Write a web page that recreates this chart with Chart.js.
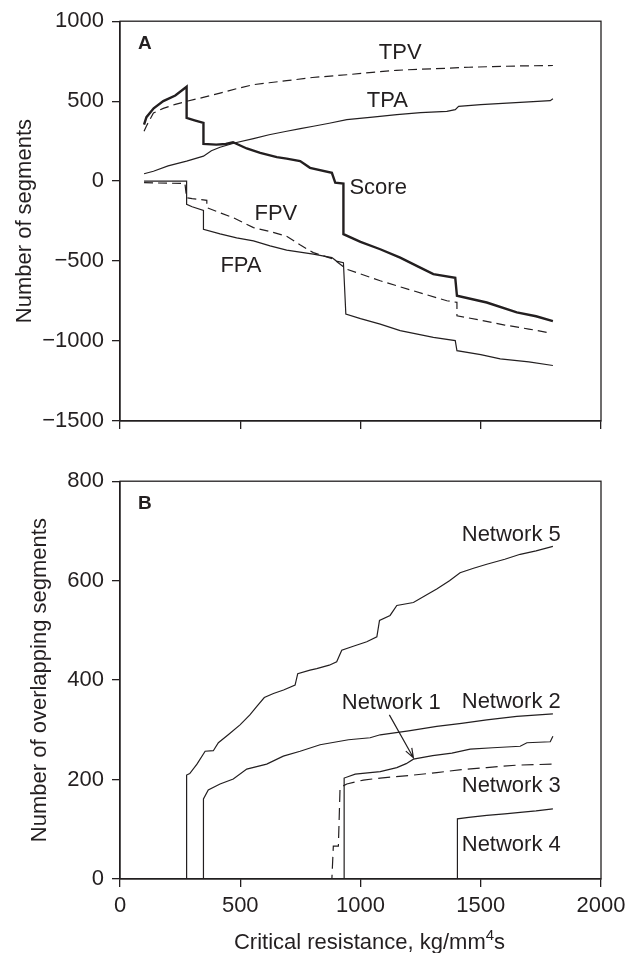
<!DOCTYPE html>
<html>
<head>
<meta charset="utf-8">
<script src="https://cdn.jsdelivr.net/npm/chart.js@4/dist/chart.umd.min.js"></script>
<style>
body { margin: 0; background: #fff; }
#wrapA { position: absolute; left: 0; top: 0; width: 637px; height: 460px; }
#wrapB { position: absolute; left: 0; top: 460px; width: 637px; height: 493px; }
</style>
</head>
<body>
<div id="wrapA"><canvas id="chartA" width="637" height="460"></canvas></div>
<div id="wrapB"><canvas id="chartB" width="637" height="493"></canvas></div>
<script>
// Panel A: x = critical resistance, y = number of segments
let tpvX = [100, 110, 139, 180, 230, 277, 350, 416, 485, 555, 620, 693, 800, 943, 1050, 1150, 1250, 1359, 1450, 1550, 1650, 1800];
let tpvY = [312, 345, 426, 455, 480, 499, 525, 550, 578, 603, 615, 628, 648, 665, 680, 693, 700, 706, 712, 716, 720, 723];

let tpaX = [100, 139, 200, 277, 347, 380, 416, 480, 555, 620, 693, 750, 804, 870, 943, 1050, 1151, 1250, 1359, 1394, 1408, 1500, 1609, 1700, 1789, 1800];
let tpaY = [46, 62, 95, 125, 156, 190, 212, 240, 266, 290, 312, 328, 343, 362, 385, 400, 416, 428, 436, 447, 468, 478, 488, 495, 503, 515];

let scoreX = [100, 110, 140, 180, 230, 277, 277, 310, 347, 347, 400, 440, 470, 527, 583, 652, 693, 749, 790, 881, 895, 929, 929, 1000, 1082, 1165, 1240, 1303, 1394, 1401, 1525, 1650, 1730, 1800];
let scoreY = [353, 400, 455, 500, 535, 590, 395, 380, 364, 233, 228, 232, 243, 204, 177, 150, 141, 125, 83, 52, -10, -15, -332, -380, -426, -478, -535, -582, -605, -717, -759, -821, -845, -875];

let fpvX = [100, 270, 277, 300, 361, 361, 420, 471, 555, 624, 693, 750, 804, 888, 943, 1082, 1220, 1359, 1401, 1401, 1500, 1600, 1700, 1790];
let fpvY = [-10, -15, -104, -110, -120, -166, -200, -229, -291, -315, -345, -400, -447, -488, -551, -623, -686, -748, -758, -842, -870, -900, -925, -950];

let fpaX = [100, 277, 277, 300, 347, 347, 416, 485, 555, 624, 693, 804, 881, 900, 929, 939, 1000, 1082, 1165, 1303, 1394, 1401, 1500, 1581, 1700, 1800];
let fpaY = [0, 0, -145, -160, -183, -301, -330, -355, -374, -405, -432, -457, -478, -500, -510, -831, -860, -894, -935, -977, -997, -1060, -1085, -1112, -1130, -1153];

// Panel B: overlapping segments per network
let net5X = [100, 277, 277, 290, 320, 354, 388, 409, 450, 499, 540, 569, 600, 638, 680, 728, 739, 790, 818, 870, 901, 922, 970, 1026, 1068, 1079, 1123, 1151, 1220, 1270, 1317, 1370, 1414, 1470, 1525, 1600, 1664, 1730, 1800];
let net5Y = [0, 0, 209, 212, 231, 257, 258, 274, 290, 310, 330, 347, 365, 373, 380, 390, 413, 420, 423, 430, 437, 460, 468, 477, 487, 520, 530, 550, 556, 570, 583, 600, 616, 625, 633, 643, 653, 660, 669];

let net2X = [100, 347, 347, 367, 416, 471, 527, 610, 679, 749, 832, 950, 1040, 1082, 1200, 1317, 1420, 1525, 1650, 1800];
let net2Y = [0, 0, 161, 179, 191, 201, 221, 231, 247, 257, 270, 280, 284, 290, 298, 307, 313, 320, 327, 332];

let net1X = [100, 932, 932, 978, 1040, 1082, 1151, 1190, 1220, 1300, 1380, 1456, 1550, 1664, 1692, 1789, 1800];
let net1Y = [0, 0, 203, 211, 214, 216, 224, 232, 241, 248, 253, 261, 264, 267, 274, 276, 287];

let net3X = [100, 881, 887, 908, 915, 943, 1012, 1082, 1200, 1317, 1420, 1525, 1650, 1800];
let net3Y = [0, 0, 66, 66, 184, 191, 199, 203, 208, 214, 220, 224, 229, 231];

let net4X = [100, 1403, 1403, 1450, 1525, 1600, 1664, 1730, 1800];
let net4Y = [0, 0, 121, 124, 128, 131, 134, 137, 141];

let xTicks = [0, 500, 1000, 1500, 2000];
let yTicksA = [-1500, -1000, -500, 0, 500, 1000];
let yTicksB = [0, 200, 400, 600, 800];

const ink = '#231f20';
const fontFamily = '"Liberation Sans", Arial, Helvetica, sans-serif';

Chart.defaults.font.family = fontFamily;
Chart.defaults.font.size = 22;
Chart.defaults.color = ink;

let pts = (xs, ys) => xs.map((x, i) => ({ x: x, y: ys[i] }));

let line = (label, xs, ys, width, dash) => ({
    label: label,
    data: pts(xs, ys),
    borderColor: ink,
    borderWidth: width,
    borderDash: dash || [],
    pointRadius: 0,
    tension: 0,
    fill: false
});

let fmt = v => String(v).replace('-', '\u2212');

// frame, panel letter, in-plot labels, arrow and the x title with a real superscript
let notesPlugin = {
    id: 'notes',
    afterDatasetsDraw(chart, args, opts) {
        let ctx = chart.ctx;
        let a = chart.chartArea;
        let sx = chart.scales.x, sy = chart.scales.y;
        ctx.save();
        ctx.strokeStyle = ink;
        ctx.lineWidth = 1.3;
        ctx.strokeRect(a.left, a.top, a.right - a.left, a.bottom - a.top);

        ctx.fillStyle = ink;
        ctx.textBaseline = 'middle';
        ctx.textAlign = 'left';
        ctx.font = 'bold 19px ' + fontFamily;
        ctx.fillText(opts.panel, a.left + 18, a.top + 23);

        ctx.font = '22px ' + fontFamily;
        opts.labels.forEach(n => {
            ctx.textAlign = n.align;
            ctx.fillText(n.text, sx.getPixelForValue(n.x), sy.getPixelForValue(n.y));
        });

        (opts.arrows || []).forEach(ar => {
            let x1 = sx.getPixelForValue(ar.from[0]), y1 = sy.getPixelForValue(ar.from[1]);
            let x2 = sx.getPixelForValue(ar.to[0]), y2 = sy.getPixelForValue(ar.to[1]);
            let ang = Math.atan2(y2 - y1, x2 - x1);
            ctx.lineWidth = 1.2;
            ctx.beginPath();
            ctx.moveTo(x1, y1);
            ctx.lineTo(x2, y2);
            ctx.moveTo(x2 - 10 * Math.cos(ang - 0.35), y2 - 10 * Math.sin(ang - 0.35));
            ctx.lineTo(x2, y2);
            ctx.lineTo(x2 - 10 * Math.cos(ang + 0.35), y2 - 10 * Math.sin(ang + 0.35));
            ctx.stroke();
        });

        if (opts.xTitle) {
            let t = opts.xTitle;
            ctx.textAlign = 'left';
            ctx.textBaseline = 'alphabetic';
            ctx.font = '22px ' + fontFamily;
            let w1 = ctx.measureText(t.main).width;
            let w3 = ctx.measureText(t.tail).width;
            ctx.font = '15px ' + fontFamily;
            let w2 = ctx.measureText(t.sup).width;
            let total = w1 + w2 + w3;
            let left = (a.left + a.right) / 2 + 9 - total / 2;
            let base = chart.height - 4;
            ctx.font = '22px ' + fontFamily;
            ctx.fillText(t.main, left, base);
            ctx.font = '15px ' + fontFamily;
            ctx.fillText(t.sup, left + w1, base - 9);
            ctx.font = '22px ' + fontFamily;
            ctx.fillText(t.tail, left + w1 + w2, base);
        }
        ctx.restore();
    }
};

let axisGrid = {
    drawOnChartArea: false,
    drawTicks: true,
    tickLength: 8,
    color: ink,
    lineWidth: 1.3
};

let makeScales = (yMin, yMax, yTicks, yTitle, titlePad, xLabels, xHeight) => ({
    x: {
        type: 'linear',
        min: 0,
        max: 2000,
        afterBuildTicks: s => { s.ticks = xTicks.map(v => ({ value: v })); },
        ticks: { display: xLabels, padding: 6, font: { size: 22 }, callback: fmt, maxRotation: 0 },
        grid: axisGrid,
        border: { color: ink, width: 1.3 },
        afterFit: s => { s.height = xHeight; }
    },
    y: {
        min: yMin,
        max: yMax,
        afterBuildTicks: s => { s.ticks = yTicks.map(v => ({ value: v })); },
        ticks: { padding: 8, font: { size: 22 }, callback: fmt },
        grid: axisGrid,
        border: { color: ink, width: 1.3 },
        title: {
            display: true,
            text: yTitle,
            font: { size: 22 },
            padding: { top: titlePad, bottom: 0 }
        },
        afterFit: s => { s.width = 120; }
    }
});

let chartA = new Chart(document.getElementById('chartA').getContext('2d'), {
    type: 'line',
    data: {
        datasets: [
            line('TPV', tpvX, tpvY, 1.2, [9, 5]),
            line('TPA', tpaX, tpaY, 1.2),
            line('Score', scoreX, scoreY, 2.4),
            line('FPV', fpvX, fpvY, 1.2, [9, 5]),
            line('FPA', fpaX, fpaY, 1.2)
        ]
    },
    options: {
        responsive: false,
        animation: false,
        devicePixelRatio: 1,
        layout: { padding: { left: 0, right: 36, top: 20, bottom: 0 } },
        scales: makeScales(-1500, 1000, yTicksA, 'Number of segments', 12, false, 39),
        plugins: {
            legend: { display: false },
            tooltip: { enabled: false },
            notes: {
                panel: 'A',
                labels: [
                    { text: 'TPV', x: 1165, y: 800, align: 'center' },
                    { text: 'TPA', x: 1112, y: 499, align: 'center' },
                    { text: 'Score', x: 954, y: -42, align: 'left' },
                    { text: 'FPV', x: 648, y: -208, align: 'center' },
                    { text: 'FPA', x: 503, y: -530, align: 'center' }
                ]
            }
        }
    },
    plugins: [notesPlugin]
});

let chartB = new Chart(document.getElementById('chartB').getContext('2d'), {
    type: 'line',
    data: {
        datasets: [
            line('Network 5', net5X, net5Y, 1.2),
            line('Network 2', net2X, net2Y, 1.2),
            line('Network 1', net1X, net1Y, 1.2),
            line('Network 3', net3X, net3Y, 1.2, [12, 6]),
            line('Network 4', net4X, net4Y, 1.2)
        ]
    },
    options: {
        responsive: false,
        animation: false,
        devicePixelRatio: 1,
        layout: { padding: { left: 0, right: 36, top: 17, bottom: 0 } },
        scales: makeScales(0, 800, yTicksB, 'Number of overlapping segments', 27, true, 74),
        plugins: {
            legend: { display: false },
            tooltip: { enabled: false },
            notes: {
                panel: 'B',
                labels: [
                    { text: 'Network 5', x: 1421, y: 692, align: 'left' },
                    { text: 'Network 2', x: 1421, y: 357, align: 'left' },
                    { text: 'Network 1', x: 922, y: 354, align: 'left' },
                    { text: 'Network 3', x: 1421, y: 187, align: 'left' },
                    { text: 'Network 4', x: 1421, y: 68, align: 'left' }
                ],
                arrows: [{ from: [1120, 330], to: [1220, 244] }],
                xTitle: { main: 'Critical resistance, kg/mm', sup: '4', tail: 's' }
            }
        }
    },
    plugins: [notesPlugin]
});
</script>
</body>
</html>
